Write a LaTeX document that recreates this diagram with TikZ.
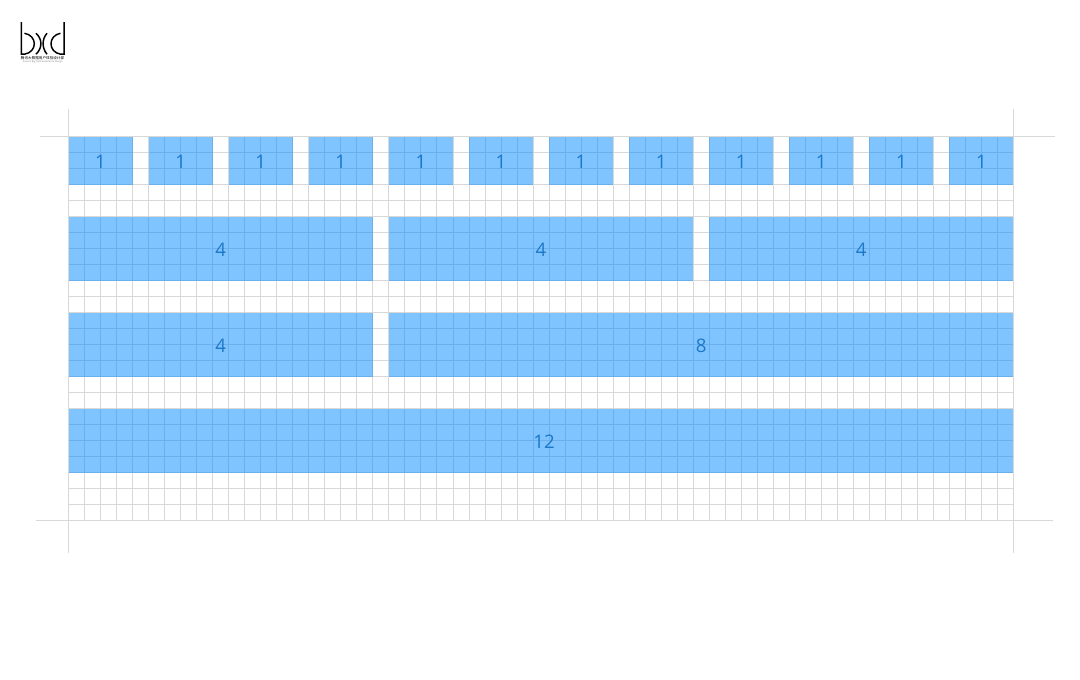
\documentclass[tikz,border=0pt]{standalone}
\usepackage{fontspec}
\setmainfont{Open Sans}
\newfontfamily\cjk{Noto Sans CJK SC}
\definecolor{gridline}{HTML}{D8D8D8}
\definecolor{blockblue}{HTML}{0088FF}
\definecolor{numblue}{HTML}{1C78C8}
\tikzset{
  colblock/.style={fill=blockblue,fill opacity=.5,text opacity=1,text=numblue,inner sep=0pt,
    minimum width=#1*12.013pt,font=\fontsize{14}{14}\selectfont,text height=12pt,text depth=0pt},
  smallrow/.style={colblock=#1,minimum height=36pt},
  bigrow/.style={colblock=#1,minimum height=48pt},
  logostroke/.style={line width=1.1pt,black}
}
\begin{document}
\begin{tikzpicture}[x=12.013pt,y=-12pt]
\useasboundingbox (-4.277,-8.55) rectangle (63.153,33.95);
\draw[gridline,line width=.6pt,xstep=12.013pt,ystep=12pt] (0,0) grid (59,24);
\draw[gridline,line width=.6pt] (0,-1.72) -- (0,26.03);
\draw[gridline,line width=.6pt] (59,-1.72) -- (59,26.03);
\draw[gridline,line width=.6pt] (-1.81,0) -- (61.6,0);
\draw[gridline,line width=.6pt] (-2,24) -- (61.44,24);
% twelve single columns
\foreach \n in {0,...,11}
  \node[smallrow=4] (one\n) at (2+5*\n,1.5) {1};
% rows of four
\node[bigrow=19] (fourA) at (9.5,7) {4};
\node[bigrow=19] (fourB) at (29.5,7) {4};
\node[bigrow=19] (fourC) at (49.5,7) {4};
\node[bigrow=19] (fourD) at (9.5,13) {4};
\node[bigrow=39] (eight) at (39.5,13) {8};
\node[bigrow=59] (twelve) at (29.5,19) {\hspace*{4.5pt}12};
% logo
\draw[logostroke] (-2.94,-7.16) -- (-2.94,-5.16) -- (-2.75,-5.16) .. controls (-1.93,-5.3) and (-1.93,-6.33) .. (-2.75,-6.47);
\draw[logostroke] (-2.03,-6.47) .. controls (-1.62,-6.1) and (-1.62,-5.55) .. (-2.03,-5.16);
\draw[logostroke] (-1.34,-6.47) .. controls (-1.67,-6.1) and (-1.67,-5.55) .. (-1.34,-5.16);
\draw[logostroke] (-.28,-7.16) -- (-.28,-5.16) -- (-.5,-5.16) .. controls (-1.29,-5.3) and (-1.29,-6.33) .. (-.5,-6.47);
\node[inner sep=0pt,font=\cjk\fontsize{2.7}{3}\selectfont] (logocn) at (-1.62,-4.9) {腾讯大数据用户体验设计部};
\node[inner sep=0pt,font=\fontsize{1.8}{2}\selectfont,gray] (logoen) at (-1.62,-4.66) {Tencent Big Data Experience Design};
\end{tikzpicture}
\end{document}
